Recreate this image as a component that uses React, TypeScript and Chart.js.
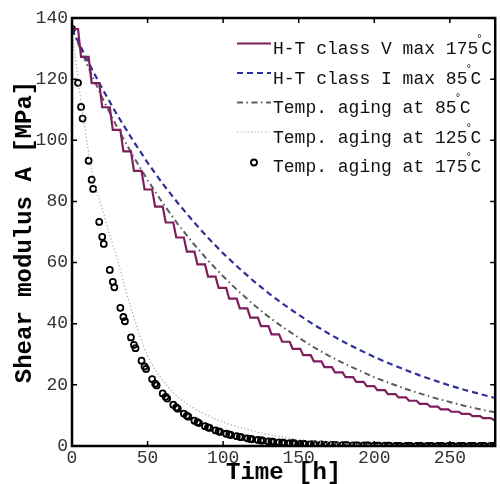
import React, { useEffect, useRef } from "react";
import { Chart, registerables } from "chart.js";

Chart.register(...registerables);

const MONO = '"Liberation Mono", "DejaVu Sans Mono", monospace';

const xTicks = [0, 50, 100, 150, 200, 250];
const yTicks = [0, 20, 40, 60, 80, 100, 120, 140];
const xMax = 280;
const yMax = 140;

const xTitle = "Time [h]";
const yTitle = "Shear modulus A [MPa]";

const seriesNames = [
  "H-T class V max 175°C",
  "H-T class I max 85°C",
  "Temp. aging at 85°C",
  "Temp. aging at 125°C",
  "Temp. aging at 175°C",
];

// H-T class V (staircase)
const stepTimes = [0, 4, 6, 11, 13, 18, 20, 25, 27, 32, 34, 39, 41, 46, 48, 53, 55, 60, 62, 67, 69, 74, 76, 81, 83, 88, 90, 95, 97, 102, 104, 109, 111, 116, 118, 123, 125, 130, 132, 137, 139, 144, 146, 151, 153, 158, 160, 165, 167, 172, 174, 179, 181, 186, 188, 193, 195, 200, 202, 207, 209, 214, 216, 221, 223, 228, 230, 235, 237, 242, 244, 249, 251, 256, 258, 263, 265, 270, 272, 277, 279, 280];
const stepValues = [136.4, 136.4, 127.3, 127.3, 118.7, 118.7, 110.8, 110.8, 103.4, 103.4, 96.4, 96.4, 90.0, 90.0, 83.9, 83.9, 78.3, 78.3, 73.1, 73.1, 68.2, 68.2, 63.6, 63.6, 59.4, 59.4, 55.4, 55.4, 51.7, 51.7, 48.2, 48.2, 45.0, 45.0, 42.0, 42.0, 39.2, 39.2, 36.5, 36.5, 34.1, 34.1, 31.8, 31.8, 29.7, 29.7, 27.7, 27.7, 25.8, 25.8, 24.1, 24.1, 22.5, 22.5, 21.0, 21.0, 19.6, 19.6, 18.3, 18.3, 17.0, 17.0, 15.9, 15.9, 14.8, 14.8, 13.8, 13.8, 12.9, 12.9, 12.0, 12.0, 11.2, 11.2, 10.5, 10.5, 9.8, 9.8, 9.1, 9.1, 8.5, 8.5];

// smooth curves
const smoothTimes = [0, 10, 20, 30, 40, 50, 60, 70, 80, 90, 100, 110, 120, 130, 140, 150, 160, 170, 180, 190, 200, 210, 220, 230, 240, 250, 260, 270, 280];
const classIValues = [136.4, 126.3, 116.9, 108.2, 100.2, 92.7, 85.8, 79.5, 73.6, 68.1, 63.0, 58.4, 54.0, 50.0, 46.3, 42.9, 39.7, 36.7, 34.0, 31.5, 29.1, 27.0, 25.0, 23.1, 21.4, 19.8, 18.3, 17.0, 15.7];
const aging85Values = [136.4, 124.7, 113.9, 104.1, 95.2, 87.0, 79.5, 72.6, 66.4, 60.7, 55.5, 50.7, 46.3, 42.3, 38.7, 35.4, 32.3, 29.5, 27.0, 24.7, 22.5, 20.6, 18.8, 17.2, 15.7, 14.4, 13.1, 12.0, 11.0];

const aging125Times = [0, 2, 4, 6, 8, 10, 12, 15, 20, 25, 30, 35, 40, 45, 50, 55, 60, 65, 70, 80, 90, 100, 110, 120, 130, 140, 150, 160, 170, 180, 200, 220, 250, 280];
const aging125Values = [136.4, 128, 120, 112.5, 105.5, 99, 93, 86, 77.5, 69, 61, 52, 43.5, 35.8, 29.5, 25, 21.5, 18.5, 16, 12.6, 9.9, 7.8, 6.2, 4.9, 3.8, 2.9, 2.2, 1.6, 1.1, 0.8, 0.4, 0.2, 0.05, 0];

const aging175Times = [0, 4, 6, 7, 11, 13, 14, 18, 20, 21, 25, 27, 28, 32, 34, 35, 39, 41, 42, 46, 48, 49, 53, 55, 56, 60, 62, 63, 67, 69, 70, 74, 76, 77, 81, 83, 84, 88, 90, 91, 95, 97, 98, 102, 104, 105, 109, 111, 112, 116, 118, 119, 123, 125, 126, 130, 132, 133, 137, 139, 140, 144, 146, 147, 151, 153, 154, 158, 160, 161, 165, 167, 168, 172, 174, 175, 179, 181, 182, 186, 188, 189, 193, 195, 196, 200, 202, 203, 207, 209, 210, 214, 216, 217, 221, 223, 224, 228, 230, 231, 235, 237, 238, 242, 244, 245, 249, 251, 252, 256, 258, 259, 263, 265, 266, 270, 272, 273, 277, 279, 280];
const aging175Values = [136.4, 118.8, 110.9, 107.1, 93.3, 87.1, 84.1, 73.3, 68.4, 66.1, 57.6, 53.7, 51.9, 45.2, 42.2, 40.8, 35.5, 33.1, 32.0, 27.9, 26.0, 25.2, 21.9, 20.4, 19.8, 17.2, 16.1, 15.5, 13.5, 12.6, 12.2, 10.6, 9.9, 9.6, 8.3, 7.8, 7.5, 6.5, 6.1, 5.9, 5.1, 4.8, 4.6, 4.0, 3.8, 3.6, 3.2, 3.0, 2.9, 2.5, 2.3, 2.2, 2.0, 1.8, 1.8, 1.5, 1.4, 1.4, 1.2, 1.1, 1.1, 0.9, 0.9, 0.9, 0.7, 0.7, 0.7, 0.6, 0.5, 0.5, 0.5, 0.4, 0.4, 0.4, 0.3, 0.3, 0.3, 0.3, 0.3, 0.2, 0.2, 0.2, 0.2, 0.2, 0.2, 0.1, 0.1, 0.1, 0.1, 0.1, 0.1, 0, 0, 0, 0, 0, 0, 0, 0, 0, 0, 0, 0, 0, 0, 0, 0, 0, 0, 0, 0, 0, 0, 0, 0, 0, 0, 0, 0, 0, 0, 0];

const colorClassV = "#7e1f5c";
const colorClassI = "#30309a";
const colorAging85 = "#5c5c5c";
const colorAging125 = "#a6a6a6";
const colorAging175 = "#000000";

function zip(xs: number[], ys: number[]) {
  const n = Math.min(xs.length, ys.length);
  const out: { x: number; y: number }[] = [];
  for (let i = 0; i < n; i++) out.push({ x: xs[i], y: ys[i] });
  return out;
}

const framePlugin = {
  id: "frame",
  afterDatasetsDraw(chart: any) {
    const { ctx, chartArea } = chart;
    const { left, right, top, bottom } = chartArea;
    const xs = chart.scales.x;
    const ys = chart.scales.y;
    ctx.save();
    ctx.strokeStyle = "#000";
    ctx.lineWidth = 1.5;
    const tl = 5;
    ctx.beginPath();
    xTicks.forEach((v) => {
      const px = xs.getPixelForValue(v);
      ctx.moveTo(px, bottom);
      ctx.lineTo(px, bottom - tl);
      ctx.moveTo(px, top);
      ctx.lineTo(px, top + tl);
    });
    yTicks.forEach((v) => {
      const py = ys.getPixelForValue(v);
      ctx.moveTo(left, py);
      ctx.lineTo(left + tl, py);
      ctx.moveTo(right, py);
      ctx.lineTo(right - tl, py);
    });
    ctx.stroke();
    ctx.lineWidth = 2.5;
    ctx.strokeRect(left, top, right - left, bottom - top);
    ctx.restore();
  },
  afterDraw(chart: any) {
    const { ctx, chartArea } = chart;
    const { left, right, top, bottom } = chartArea;
    ctx.save();
    ctx.fillStyle = "#000";
    ctx.font = `bold 24px ${MONO}`;
    ctx.textAlign = "center";
    ctx.textBaseline = "alphabetic";
    ctx.fillText(xTitle, (left + right) / 2, 479);
    ctx.translate(31, (top + bottom) / 2);
    ctx.rotate(-Math.PI / 2);
    ctx.fillText(yTitle, 0, 0);
    ctx.restore();

    // legend
    ctx.save();
    const rowY0 = 49.5;
    const rowStep = 29.5;
    const lineX0 = 237;
    const lineX1 = 271;
    const textX = 273;
    chart.data.datasets.forEach((ds: any, i: number) => {
      const cy = rowY0 + i * rowStep;
      const ly = cy - 6;
      if (ds.showLine === false) {
        ctx.beginPath();
        ctx.arc((lineX0 + lineX1) / 2, ly + 1, ds.pointRadius, 0, Math.PI * 2);
        ctx.lineWidth = ds.pointBorderWidth;
        ctx.strokeStyle = ds.pointBorderColor;
        ctx.stroke();
      } else {
        ctx.beginPath();
        ctx.setLineDash(ds.borderDash || []);
        ctx.lineWidth = ds.borderWidth;
        ctx.strokeStyle = ds.borderColor;
        ctx.moveTo(lineX0, ly);
        ctx.lineTo(lineX1, ly);
        ctx.stroke();
        ctx.setLineDash([]);
      }
      const label: string = ds.label;
      const parts = label.split("°");
      ctx.fillStyle = "#111";
      ctx.textAlign = "left";
      ctx.textBaseline = "middle";
      ctx.font = `18px ${MONO}`;
      ctx.fillText(parts[0], textX, cy);
      let x = textX + ctx.measureText(parts[0]).width;
      if (parts.length > 1) {
        ctx.font = `11px ${MONO}`;
        ctx.fillText("°", x - 2, cy - 10);
        x += 3;
        ctx.font = `18px ${MONO}`;
        ctx.fillText(parts[1], x, cy);
      }
    });
    ctx.restore();
  },
};

export default function App() {
  const canvasRef = useRef<HTMLCanvasElement | null>(null);

  useEffect(() => {
    document.body.style.margin = "0";
    const canvas = canvasRef.current;
    if (!canvas) return;
    const chart = new Chart(canvas, {
      type: "line",
      data: {
        datasets: [
          {
            label: seriesNames[0],
            data: zip(stepTimes, stepValues),
            borderColor: colorClassV,
            borderWidth: 2.2,
            pointRadius: 0,
            tension: 0,
            fill: false,
          },
          {
            label: seriesNames[1],
            data: zip(smoothTimes, classIValues),
            borderColor: colorClassI,
            borderWidth: 2.2,
            borderDash: [6, 4],
            pointRadius: 0,
            tension: 0,
            fill: false,
          },
          {
            label: seriesNames[2],
            data: zip(smoothTimes, aging85Values),
            borderColor: colorAging85,
            borderWidth: 2,
            borderDash: [6, 3.5, 1.5, 3.5],
            pointRadius: 0,
            tension: 0,
            fill: false,
          },
          {
            label: seriesNames[3],
            data: zip(aging125Times, aging125Values),
            borderColor: colorAging125,
            borderWidth: 1.2,
            borderDash: [1.2, 2.3],
            pointRadius: 0,
            tension: 0.3,
            cubicInterpolationMode: "monotone",
            fill: false,
          },
          {
            label: seriesNames[4],
            data: zip(aging175Times, aging175Values),
            showLine: false,
            pointRadius: 3,
            pointBorderWidth: 1.8,
            pointBorderColor: colorAging175,
            pointBackgroundColor: "rgba(0,0,0,0)",
            borderColor: colorAging175,
            pointStyle: "circle",
          },
        ],
      },
      options: {
        animation: false,
        responsive: false,
        maintainAspectRatio: false,
        layout: { padding: { top: 18, right: 1, left: 0, bottom: 0 } },
        plugins: {
          legend: { display: false },
          tooltip: { enabled: false },
        },
        scales: {
          x: {
            type: "linear",
            min: 0,
            max: xMax,
            grid: { display: false, drawTicks: false },
            border: { display: false },
            afterBuildTicks: (scale: any) => {
              scale.ticks = xTicks.map((v) => ({ value: v }));
            },
            afterFit: (scale: any) => {
              scale.height = 38;
            },
            ticks: {
              font: { family: MONO, size: 18 },
              color: "#333",
              padding: 1,
              maxRotation: 0,
              autoSkip: false,
            },
          },
          y: {
            type: "linear",
            min: 0,
            max: yMax,
            grid: { display: false, drawTicks: false },
            border: { display: false },
            afterBuildTicks: (scale: any) => {
              scale.ticks = yTicks.map((v) => ({ value: v }));
            },
            afterFit: (scale: any) => {
              scale.width = 72;
            },
            ticks: {
              font: { family: MONO, size: 18 },
              color: "#333",
              padding: 4,
              autoSkip: false,
            },
          },
        },
      },
      plugins: [framePlugin],
    } as any);
    return () => chart.destroy();
  }, []);

  return (
    <div style={{ width: 501, height: 484 }}>
      <canvas ref={canvasRef} width={501} height={484} style={{ display: "block" }} />
    </div>
  );
}
